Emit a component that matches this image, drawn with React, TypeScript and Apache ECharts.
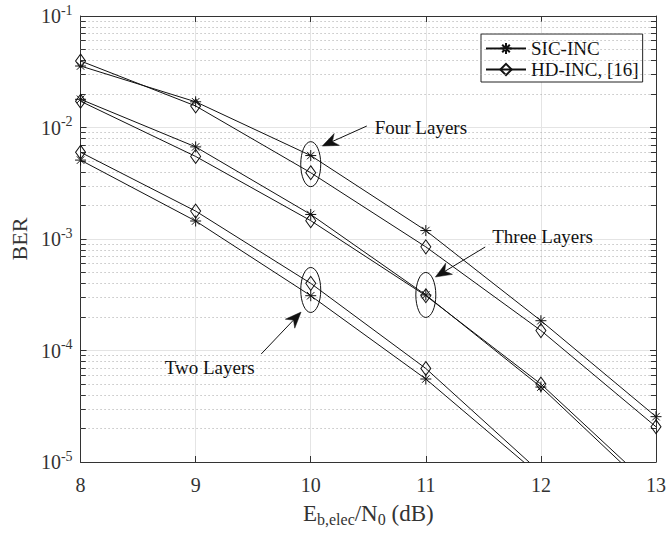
import React, { useEffect, useRef } from "react";
import * as echarts from "echarts";

// ---- data ----
const snrDb = [8, 9, 10, 11, 12, 13];
const fourSIC = [0.0356, 0.017, 5.6e-3, 1.19e-3, 1.85e-4, 2.55e-5];
const fourHD = [0.0395, 0.0156, 3.93e-3, 8.5e-4, 1.51e-4, 2.07e-5];
const threeSIC = [0.0179, 6.7e-3, 1.66e-3, 3.15e-4, 4.7e-5, 5.0e-6];
const threeHD = [0.0172, 5.5e-3, 1.46e-3, 3.1e-4, 5.0e-5, 5.5e-6];
const twoSIC = [5.1e-3, 1.45e-3, 3.1e-4, 5.55e-5, 7.4e-6];
const twoHD = [6.0e-3, 1.78e-3, 4.0e-4, 6.9e-5, 8.0e-6];

const legendNames = ["SIC-INC", "HD-INC, [16]"];
const decades = [1e-5, 1e-4, 1e-3, 1e-2];
const minorMultipliers = [2, 3, 4, 5, 6, 7, 8, 9];

// annotations in data coordinates
const ellipses = [
  { x: 10, y: 4.69e-3 },
  { x: 11, y: 3.15e-4 },
  { x: 10, y: 3.49e-4 },
];
const labels = [
  { text: "Four Layers", x: 10.556, y: 0.0101 },
  { text: "Three Layers", x: 11.577, y: 1.05e-3 },
  { text: "Two Layers", x: 8.731, y: 7.11e-5 },
];
const arrows = [
  { from: [10.487, 0.01031], to: [10.1, 6.82e-3] },
  { from: [11.516, 8.48e-4], to: [11.083, 4.56e-4] },
  { from: [9.57, 9.31e-5], to: [9.916, 2.21e-4] },
];

const FONT = "Liberation Serif";
const STAR = "path://M5,0L5,10M0,5L10,5M1.6,1.6L8.4,8.4M1.6,8.4L8.4,1.6";

function mkSeries(name: string, vals: number[], star: boolean) {
  return {
    type: "line",
    name,
    data: vals.map((v, i) => [snrDb[i], v]),
    symbol: star ? STAR : "diamond",
    symbolSize: star ? [11, 11] : [10, 14],
    showSymbol: true,
    clip: true,
    z: 5,
    lineStyle: { color: "#111", width: 1 },
    itemStyle: { color: "rgba(0,0,0,0)", borderColor: "#111", borderWidth: 1 },
    emphasis: { disabled: true },
  };
}

export default function App() {
  const ref = useRef<HTMLDivElement>(null);
  useEffect(() => {
    const chart = echarts.init(ref.current!, null, { renderer: "svg" });
    const minorVals: number[] = [];
    decades.forEach((d) => minorMultipliers.forEach((m) => minorVals.push(d * m)));

    const tickLen = 0.045;
    const minorTicks: any[] = [];
    const minorGrid: any[] = [];
    minorVals.forEach((v) => {
      minorTicks.push([{ coord: [8, v] }, { coord: [8 + tickLen, v] }]);
      minorTicks.push([{ coord: [13 - tickLen, v] }, { coord: [13, v] }]);
      minorGrid.push([{ coord: [8, v] }, { coord: [13, v] }]);
    });

    const axisColor = "#333";
    chart.setOption({
      animation: false,
      backgroundColor: "#fff",
      grid: { left: 80, top: 16, width: 578, height: 446, containLabel: false },
      legend: {
        data: legendNames,
        orient: "vertical",
        left: 481,
        top: 34,
        itemWidth: 40,
        itemHeight: 14,
        itemGap: 2,
        padding: [5, 4, 3, 4],
        borderColor: "#222",
        borderWidth: 1,
        backgroundColor: "#fff",
        selectedMode: false,
        textStyle: { fontFamily: FONT, fontSize: 19, color: "#111", lineHeight: 19 },
      },
      xAxis: [
        {
          type: "value",
          min: 8,
          max: 13,
          interval: 1,
          name: "E{s|b,elec}/N{s|0} (dB)",
          nameLocation: "middle",
          nameGap: 37,
          nameTextStyle: {
            fontFamily: FONT,
            fontSize: 23,
            color: "#333",
            rich: { s: { fontFamily: FONT, fontSize: 16, color: "#333", padding: [12, 0, 0, 0] } },
          },
          axisLine: { show: true, lineStyle: { color: axisColor } },
          axisTick: { inside: true, length: 6, lineStyle: { color: axisColor } },
          axisLabel: { fontFamily: FONT, fontSize: 20, color: "#333", margin: 13 },
          splitLine: { show: true, lineStyle: { color: "#e4e4e4", width: 1 } },
        },
        {
          type: "value",
          position: "top",
          min: 8,
          max: 13,
          interval: 1,
          axisLine: { show: true, lineStyle: { color: axisColor } },
          axisTick: { inside: true, length: 6, lineStyle: { color: axisColor } },
          axisLabel: { show: false },
          splitLine: { show: false },
        },
      ],
      yAxis: [
        {
          type: "log",
          logBase: 10,
          min: 1e-5,
          max: 1e-1,
          name: "BER",
          nameLocation: "middle",
          nameGap: 50,
          nameTextStyle: { fontFamily: FONT, fontSize: 22, color: "#333" },
          axisLine: { show: true, lineStyle: { color: axisColor } },
          axisTick: { inside: true, length: 6, lineStyle: { color: axisColor } },
          axisLabel: {
            margin: 8,
            fontFamily: FONT,
            fontSize: 20,
            color: "#333",
            formatter: (v: number) => `{b|10}{s|${Math.round(Math.log10(v))}}`,
            rich: {
              b: { fontFamily: FONT, fontSize: 20, color: "#333" },
              s: { fontFamily: FONT, fontSize: 14, color: "#333", padding: [0, 0, 12, 0] },
            },
          },
          splitLine: { show: true, lineStyle: { color: "#e4e4e4", width: 1 } },
        },
        {
          type: "log",
          logBase: 10,
          min: 1e-5,
          max: 1e-1,
          position: "right",
          axisLine: { show: true, lineStyle: { color: axisColor } },
          axisTick: { inside: true, length: 6, lineStyle: { color: axisColor } },
          axisLabel: { show: false },
          splitLine: { show: false },
        },
      ],
      series: [
        {
          type: "line",
          name: "minor-grid",
          data: [],
          z: 1,
          silent: true,
          markLine: {
            silent: true,
            symbol: "none",
            animation: false,
            label: { show: false },
            lineStyle: { type: [1, 3], color: "#a6a6a6", width: 1 },
            emphasis: { disabled: true },
            data: minorGrid,
          },
        },
        {
          type: "line",
          name: "minor-ticks",
          data: [],
          z: 2,
          silent: true,
          markLine: {
            silent: true,
            symbol: "none",
            animation: false,
            label: { show: false },
            lineStyle: { type: "solid", color: axisColor, width: 1 },
            emphasis: { disabled: true },
            data: minorTicks,
          },
        },
        mkSeries(legendNames[0], fourSIC, true),
        mkSeries(legendNames[1], fourHD, false),
        mkSeries(legendNames[0], threeSIC, true),
        mkSeries(legendNames[1], threeHD, false),
        mkSeries(legendNames[0], twoSIC, true),
        mkSeries(legendNames[1], twoHD, false),
      ],
    });

    const px = (p: number[]) => chart.convertToPixel({ xAxisIndex: 0, yAxisIndex: 0 }, p) as number[];
    const graphic: any[] = [];
    ellipses.forEach((e) => {
      const c = px([e.x, e.y]);
      graphic.push({
        type: "ellipse",
        shape: { cx: c[0], cy: c[1], rx: 10, ry: 22.5 },
        style: { fill: "none", stroke: "#111", lineWidth: 1 },
        z: 10,
      });
    });
    labels.forEach((l) => {
      const c = px([l.x, l.y]);
      graphic.push({
        type: "text",
        x: c[0],
        y: c[1],
        style: { text: l.text, font: `19px "${FONT}"`, fill: "#111", textAlign: "left", textVerticalAlign: "middle" },
        z: 10,
      });
    });
    arrows.forEach((a) => {
      const f = px(a.from);
      const t = px(a.to);
      const dx = t[0] - f[0];
      const dy = t[1] - f[1];
      const len = Math.hypot(dx, dy);
      const ux = dx / len;
      const uy = dy / len;
      const nx = -uy;
      const ny = ux;
      const hl = 16;
      const hw = 6.5;
      const notch = 11;
      const bx = t[0] - ux * hl;
      const by = t[1] - uy * hl;
      graphic.push({
        type: "line",
        shape: { x1: f[0], y1: f[1], x2: t[0] - ux * notch, y2: t[1] - uy * notch },
        style: { stroke: "#111", lineWidth: 1 },
        z: 10,
      });
      graphic.push({
        type: "polygon",
        shape: {
          points: [
            [t[0], t[1]],
            [bx + nx * hw, by + ny * hw],
            [t[0] - ux * notch, t[1] - uy * notch],
            [bx - nx * hw, by - ny * hw],
          ],
        },
        style: { fill: "#111", stroke: "#111", lineWidth: 0.5 },
        z: 10,
      });
    });
    chart.setOption({ graphic });

    return () => chart.dispose();
  }, []);
  return (
    <div
      ref={ref}
      style={{ position: "fixed", left: 0, top: 0, width: 669, height: 533, background: "#fff" }}
    />
  );
}
